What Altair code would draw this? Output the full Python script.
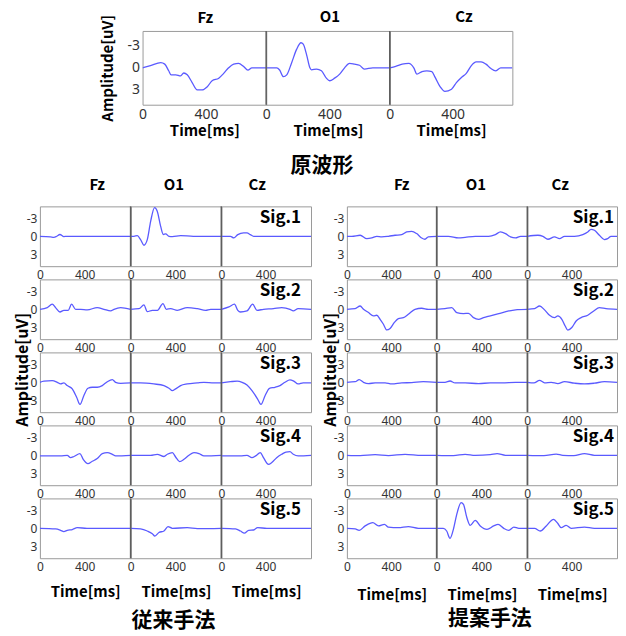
import altair as alt
import pandas as pd

CHANNELS = ["Fz", "O1", "Cz"]
Y_TICKS = [-3, 0, 3]
X_TICKS = [0, 400]
TOP_XMAX = 780
BOT_XMAX = 810

# original waveforms (time ms, amplitude uV)
ORIGINAL = {
    "Fz": [(0, 0), (50, -0.3), (115, -0.7), (140, -0.5), (165, 0.4), (180, 0.95), (210, 0.95), (240, 1.1),
           (260, 0.7), (282, 0.95), (313, 2.0), (345, 3.0), (376, 3.0), (407, 2.6), (439, 1.75), (481, 1.4),
           (512, 0.75), (543, 0), (575, -0.5), (606, -0.6), (637, -0.2), (665, 0.3), (690, 0), (780, 0)],
    "O1": [(0, 0), (67, 0), (85, 0.3), (109, 1.2), (130, 0.95), (161, -0.7), (192, -2.5), (220, -3.4),
           (234, -3.2), (255, -1.8), (276, 0), (286, 0.27), (318, 0.18), (349, 0.4), (380, 1.4), (401, 1.75),
           (432, 1.4), (464, 0.85), (495, 0), (526, -0.6), (557, -0.5), (589, -0.35), (620, 0.18), (673, 0),
           (780, 0)],
    "Cz": [(0, 0), (38, -0.2), (79, -0.5), (121, -0.6), (153, 0), (173, 0.85), (205, 0.5), (236, 0.4),
           (268, 0.5), (289, 1.3), (320, 2.55), (351, 3.2), (393, 2.9), (424, 2.0), (456, 1.3), (487, 0.75),
           (518, -0.27), (550, -0.8), (581, -0.8), (612, -0.5), (644, 0.1), (675, 0.4), (706, 0), (780, 0)],
}

# conventional method (従来手法), Sig.1..5
CONVENTIONAL = {
    1: {"Fz": [(0, 0), (95, 0.1), (125, 0.17), (150, 0), (179, -0.3), (214, 0.05), (240, 0), (810, 0)],
        "O1": [(0, 0), (30, 0), (60, -0.1), (89, 0.56), (119, 1.5), (149, 0.56), (179, -2.5), (214, -4.8),
               (238, -4.2), (268, -1.7), (292, -0.3), (313, -0.4), (343, 0), (373, 0.05), (447, -0.1),
               (560, 0), (810, 0)],
        "Cz": [(0, 0), (83, 0), (113, 0.28), (149, -0.28), (202, -0.56), (232, -0.56), (262, -0.28),
               (292, 0), (810, 0)]},
    2: {"Fz": [(0, 0), (66, -0.28), (110, -0.85), (140, -0.28), (179, 0.45), (214, 0.17), (253, 0.17),
               (283, -0.85), (319, 0), (364, 0), (423, 0.1), (512, -0.28), (572, 0), (632, 0.28), (662, 0),
               (721, -0.28), (810, 0)],
        "O1": [(0, 0), (75, -0.1), (119, -0.73), (149, 0.4), (194, 0.17), (240, 0.17), (289, -0.96),
               (319, 0), (358, -0.1), (417, 0.17), (506, -0.28), (596, -0.1), (670, 0.17), (715, 0), (810, 0)],
        "Cz": [(0, 0), (69, -0.4), (119, -0.85), (149, 0.17), (173, 0.45), (232, 0.28), (283, -0.85),
               (322, 0.17), (381, 0), (471, -0.1), (545, -0.28), (620, 0), (650, 0.28), (694, -0.1), (810, 0)]},
    3: {"Fz": [(0, 0), (36, -0.2), (110, -0.28), (155, 0), (185, 0.28), (214, 0.1), (244, 0.55), (289, 1.1),
               (328, 2.5), (358, 3.7), (393, 2.2), (429, 1.0), (468, 0.83), (512, 0.83), (557, 0.55),
               (602, -0.1), (647, -0.45), (676, 0), (721, 0.17), (810, 0.1)],
        "O1": [(0, 0.1), (89, 0.1), (208, 0.28), (298, 0.55), (343, 1.0), (373, 1.4), (402, 1.1), (447, 0.55),
               (506, 0.28), (596, 0.1), (655, 0), (745, 0.1), (810, 0.1)],
        "Cz": [(0, 0.1), (83, -0.1), (143, -0.2), (188, 0), (232, 0.45), (277, 1.4), (328, 2.8), (358, 3.7),
               (396, 2.2), (435, 1.0), (485, 0.83), (530, 0.55), (575, 0), (620, -0.4), (650, -0.25),
               (694, 0.28), (739, 0.1), (810, 0.1)]},
    4: {"Fz": [(0, 0.1), (185, 0.1), (244, 0), (274, 0.4), (304, 0.2), (358, -0.28), (387, 0.67), (429, 1.4),
               (468, 1.0), (512, 0.55), (557, -0.28), (602, -0.45), (647, -0.17), (676, 0.1), (810, 0)],
        "O1": [(0, 0), (179, 0), (238, -0.17), (298, 0.2), (328, -0.17), (373, -0.45), (402, 0.28),
               (438, 1.05), (477, 0.67), (521, 0), (566, -0.45), (611, -0.3), (655, 0.1), (810, 0)],
        "Cz": [(0, 0.1), (173, 0.1), (232, 0), (277, 0.4), (310, 0.1), (352, -0.45), (381, 0.4), (426, 1.5),
               (456, 1.2), (500, 0.4), (545, -0.17), (584, -0.55), (620, -0.6), (650, -0.17), (694, 0.1),
               (810, 0)]},
    5: {"Fz": [(0, 0), (140, 0.1), (185, 0.33), (214, 0.55), (244, 0.33), (289, 0.2), (334, -0.1), (420, 0),
               (810, 0)],
        "O1": [(0, 0), (89, 0.1), (149, 0.45), (194, 0.9), (217, 1.3), (253, 0.7), (298, 0.45), (334, -0.3),
               (373, 0), (506, -0.1), (596, 0.05), (810, 0)],
        "Cz": [(0, 0), (128, 0.1), (173, 0.45), (208, 0.8), (247, 0.33), (292, 0.28), (328, -0.1), (411, 0),
               (810, 0)]},
}

# proposed method (提案手法), Sig.1..5
PROPOSED = {
    1: {"Fz": [(0, 0), (45, 0), (120, -0.17), (180, 0.4), (225, 0.28), (270, 0), (315, 0.1), (375, 0),
               (435, -0.17), (495, -0.28), (540, -0.72), (585, -0.83), (630, -0.45), (675, 0.28), (705, 0.5),
               (735, 0.1), (810, 0)],
        "O1": [(0, 0), (105, 0), (195, 0.28), (255, 0.17), (345, 0), (465, 0), (525, -0.28), (570, -0.72),
               (615, -0.45), (660, 0.1), (705, 0.28), (750, 0), (810, 0)],
        "Cz": [(0, 0), (96, -0.17), (141, 0), (186, 0.5), (246, 0.1), (291, 0.4), (336, 0), (426, 0),
               (501, -0.28), (546, -0.72), (576, -1.17), (606, -1.0), (651, -0.17), (696, 0.55), (726, 0.4),
               (756, 0), (810, 0)]},
    2: {"Fz": [(0, 0), (75, -0.1), (120, -0.55), (150, 0), (195, 0.55), (240, 1.1), (270, 1.0), (300, 1.67),
               (330, 2.5), (360, 3.45), (390, 3.2), (429, 2.2), (465, 1.55), (510, 1.4), (555, 0.83),
               (615, 0), (675, -0.17), (735, 0), (810, 0)],
        "O1": [(0, 0), (75, -0.1), (135, -0.28), (180, 0.55), (240, 0.72), (285, 0.67), (330, 1.4),
               (375, 1.67), (420, 1.4), (480, 1.1), (555, 0.72), (645, 0.28), (720, 0.05), (810, 0)],
        "Cz": [(0, 0), (66, -0.1), (111, -0.55), (156, 0.1), (201, 1.0), (246, 1.4), (276, 1.1), (312, 1.67),
               (342, 2.8), (366, 3.5), (402, 3.05), (441, 1.95), (486, 1.4), (546, 1.0), (600, 0.28),
               (651, -0.28), (711, -0.1), (810, 0)]},
    3: {"Fz": [(0, 0), (75, -0.1), (111, -0.45), (150, 0), (195, 0.22), (255, 0.1), (345, 0.1), (405, 0.28),
               (495, 0.1), (585, 0.05), (690, -0.1), (810, 0)],
        "O1": [(0, 0), (75, 0), (120, -0.22), (165, 0.1), (255, 0.1), (375, 0.22), (480, 0.1), (585, 0.1),
               (705, 0), (810, 0)],
        "Cz": [(0, 0), (60, 0.1), (111, -0.33), (156, 0.1), (216, 0), (276, 0.22), (336, -0.1), (426, 0.15),
               (516, 0.28), (606, 0.15), (696, -0.1), (810, 0)]},
    4: {"Fz": [(0, 0), (120, 0.05), (255, -0.1), (375, 0.05), (525, -0.17), (675, 0), (810, 0)],
        "O1": [(0, 0), (150, 0.05), (255, -0.17), (345, 0), (480, -0.1), (540, -0.28), (615, 0), (810, 0)],
        "Cz": [(0, 0), (150, 0.05), (261, -0.2), (321, 0), (420, 0.05), (516, -0.28), (606, 0), (810, 0)]},
    5: {"Fz": [(0, 0), (75, 0.1), (111, 0.33), (165, -0.4), (234, -0.95), (285, -0.4), (339, -0.67),
               (375, -0.2), (465, -0.1), (555, -0.28), (645, 0), (810, 0)],
        "O1": [(0, 0), (60, 0), (90, 0.45), (120, 1.67), (150, 0.17), (180, -2.33), (219, -4.3), (240, -4.0),
               (270, -1.8), (300, -0.5), (345, -1.33), (390, -0.4), (450, 0.17), (510, -0.4), (549, -0.67),
               (600, 0), (645, 0.33), (690, -0.2), (735, 0), (810, 0)],
        "Cz": [(0, 0), (66, 0), (117, 0.45), (171, -0.4), (237, -1.5), (276, -0.8), (306, -0.1), (351, -0.5),
               (396, 0), (516, -0.2), (606, 0), (810, 0)]},
}

BLUE = "#5a5aff"
FRAME = "#9a9a9a"
DIVIDER = "#5e5e5e"
JP = "Noto Sans CJK JP"


def title_params(text, size, **kw):
    return alt.TitleParams(text=text, fontSize=size, fontWeight="bold", font=JP, anchor="middle",
                           color="#000000", **kw)


def panel(points, width, height, xmax, col, label_size, x_title=None, x_title_pad=4,
          y_title=None, y_title_x=0, y_title_y=None, y_title_size=15,
          title=None, sig=None, sig_dx=-10, label_pad_x=3):
    df = pd.DataFrame(points, columns=["t", "v"])
    x_axis = dict(values=X_TICKS, labelFontSize=label_size, labelFlush=False, labelOverlap=False,
                  ticks=False, domain=False, grid=False, labelPadding=label_pad_x,
                  labelColor="#333333", labelFont="Noto Sans", labelExpr="'' + datum.value")
    if x_title:
        x_axis.update(title=x_title, titleFontSize=15, titleFontWeight="bold", titleFont=JP,
                      titlePadding=x_title_pad, titleColor="#000000")
    else:
        x_axis.update(title=None)
    X = alt.X("t:Q", scale=alt.Scale(domain=[0, xmax], nice=False, zero=False), axis=alt.Axis(**x_axis))
    yscale = alt.Scale(domain=[-5, 5], reverse=True, nice=False, zero=False)
    if col == 0:
        y_axis = dict(values=Y_TICKS, labelFontSize=label_size, ticks=False, domain=False, grid=False,
                      labelPadding=3, labelColor="#333333", labelFont="Noto Sans",
                      labelExpr="'' + datum.value")
        if y_title:
            y_axis.update(title=y_title, titleFontSize=y_title_size, titleFontWeight="bold", titleFont=JP,
                          titleColor="#000000", titleAngle=270, titleBaseline="middle",
                          titleAlign="center", titleX=y_title_x)
            if y_title_y is not None:
                y_axis.update(titleY=y_title_y)
        else:
            y_axis.update(title=None)
        Y = alt.Y("v:Q", scale=yscale, axis=alt.Axis(**y_axis))
    else:
        Y = alt.Y("v:Q", scale=yscale, axis=None)

    layers = [alt.Chart(df).mark_line(color=BLUE, strokeWidth=1.3, interpolate="monotone", clip=True)
              .encode(x=X, y=Y)]
    if col > 0:
        layers.append(alt.Chart(pd.DataFrame({"t": [0]})).mark_rule(color=DIVIDER, strokeWidth=1.5)
                      .encode(x=X))
    if sig:
        layers.append(alt.Chart(pd.DataFrame({"t": [xmax], "v": [-3], "s": [sig]}))
                      .mark_text(align="right", baseline="middle", dx=sig_dx, fontSize=17,
                                 fontWeight="bold", font=JP, color="#000000")
                      .encode(x=X, y=Y, text="s:N"))
    props = dict(width=width, height=height, view=alt.ViewBackground(stroke=FRAME, strokeWidth=1))
    if title is not None:
        props["title"] = title
    return alt.layer(*layers).properties(**props)


def spacer(width, height):
    return (alt.Chart(pd.DataFrame({"a": [0]})).mark_point(opacity=0, size=1)
            .encode(x=alt.value(5), y=alt.value(5))
            .properties(width=width, height=height, view=alt.ViewBackground(stroke="transparent")))


LEFT_W = [91, 91, 90]
RIGHT_W = [90, 91, 90]
GAP_W = 36
LEFT_MARGIN = 31      # from bounds edge to first bottom plot
TOP_MARGIN = 133.7    # from bounds edge to first top plot

# ---- top: original waveforms ----
top_widths = [124, 124, 123]
top_dx = [1, 2, 13]
top_off = [-12, 5, 5]   # Fz title sits above the taller y-axis title bounds
top_cells = [spacer(TOP_MARGIN, 74)]
for c, ch in enumerate(CHANNELS):
    top_cells.append(panel(ORIGINAL[ch], top_widths[c], 74, TOP_XMAX, c, 14,
                           x_title="Time[ms]", x_title_pad=2,
                           y_title="Amplitude[uV]" if c == 0 else None, y_title_x=-35,
                           title=title_params(ch, 15, dx=top_dx[c], offset=top_off[c], frame="group")))
top = alt.hconcat(*top_cells, spacing=0, bounds="flush")

# ---- bottom: decomposed signals ----
left_hdx = [12, -2, -9]
right_hdx = [10, -6, -12]
cells = []
for r in range(1, 6):
    cells.append(spacer(LEFT_MARGIN, 60))
    for side, data, widths, hdx, sig_dx, ytx, tpad, cap, cap_dx, cap_off in (
        ("L", CONVENTIONAL, LEFT_W, left_hdx, -10, -17, 12, "従来手法", -2.5, 11),
        ("R", PROPOSED, RIGHT_W, right_hdx, -3, -16, 15, "提案手法", 8, 6),
    ):
        if side == "R":
            cells.append(spacer(GAP_W, 60))
        for c, ch in enumerate(CHANNELS):
            title = None
            if r == 1:
                title = title_params(ch, 15, dx=hdx[c], offset=13, frame="group")
            elif r == 5 and c == 1:
                title = title_params(cap, 21, orient="bottom", dx=cap_dx, offset=cap_off)
            cells.append(panel(data[r][ch], widths[c], 60, BOT_XMAX, c, 12,
                               x_title="Time[ms]" if r == 5 else None, x_title_pad=tpad,
                               y_title="Amplitude[uV]" if (c == 0 and r == 3) else None,
                               y_title_x=ytx, y_title_y=17, y_title_size=16,
                               title=title,
                               sig=f"Sig.{r}" if c == 2 else None, sig_dx=sig_dx))

bottom = alt.concat(*cells, columns=8, bounds="flush", spacing={"row": 13.25, "column": 0},
                    title=title_params("原波形", 21, dx=9, offset=1))

chart = alt.vconcat(top, bottom, spacing=15).properties(
    padding={"left": 0, "top": 0, "right": 0, "bottom": 0}
)

chart.save("out.html", embed_options={"renderer": "svg", "actions": False})
